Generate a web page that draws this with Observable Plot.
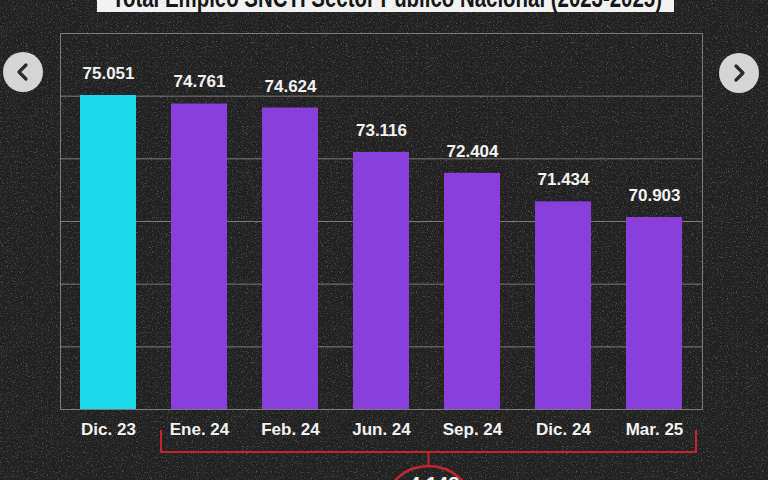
<!DOCTYPE html>
<html>
<head>
<meta charset="utf-8">
<script src="https://cdn.jsdelivr.net/npm/d3@7"></script>
<script src="https://cdn.jsdelivr.net/npm/@observablehq/plot@0.6"></script>
<style>
html, body { margin: 0; padding: 0; background: #212121; }
#wrap { position: relative; width: 768px; height: 480px; overflow: hidden; background: #212121; }
#bg, #chart, #decor { position: absolute; left: 0; top: 0; }
</style>
</head>
<body>
<div id="wrap">
  <svg id="bg" width="768" height="480">
    <defs>
      <filter id="noise" x="0" y="0" width="100%" height="100%">
        <feTurbulence type="fractalNoise" baseFrequency="0.8" numOctaves="3" seed="7" result="t"/>
        <feColorMatrix in="t" type="matrix" values="0 0 0 0 1  0 0 0 0 1  0 0 0 0 1  2.6 0 0 0 -1.4"/>
      </filter>
    </defs>
    <rect width="768" height="480" fill="#212121"/>
    <rect width="768" height="480" filter="url(#noise)" opacity="0.3"/>
  </svg>
  <div id="chart"></div>
  <svg id="decor" width="768" height="480"></svg>
</div>
<script>
// ---- data ----
const periods = ["Dic. 23", "Ene. 24", "Feb. 24", "Jun. 24", "Sep. 24", "Dic. 24", "Mar. 25"];
const empleo = [75051, 74761, 74624, 73116, 72404, 71434, 70903];
const barFills = ["#1ED8EE", "#8A3FDB", "#8A3FDB", "#8A3FDB", "#8A3FDB", "#8A3FDB", "#8A3FDB"];
const titleText = "Total Empleo SNCTI Sector Público Nacional (2023-2025)";

const yMin = 64374, yMax = 77159;
const fmt = d3.formatLocale({decimal: ",", thousands: ".", grouping: [3], currency: ["$", ""]}).format(",");
const data = periods.map((p, i) => ({period: p, value: empleo[i], fill: barFills[i]}));
const gridTicks = d3.range(1, 6).map(i => yMin + i * (yMax - yMin) / 6);

const chart = Plot.plot({
  width: 768, height: 480,
  marginLeft: 60, marginRight: 66, marginTop: 33, marginBottom: 71,
  style: {background: "transparent", color: "#fff", fontFamily: "'Liberation Sans', Arial, sans-serif", overflow: "visible"},
  x: {domain: periods, paddingInner: 0.39, paddingOuter: 0.195, label: null},
  y: {domain: [yMin, yMax], axis: null},
  marks: [
    Plot.gridY(gridTicks, {stroke: "#a0a0a0", strokeOpacity: 0.7, strokeWidth: 1}),
    Plot.frame({stroke: "#a0a0a0", strokeOpacity: 0.7}),
    Plot.barY(data, {x: "period", y1: yMin, y2: "value", fill: "fill"}),
    Plot.text(data, {x: "period", y: "value", text: d => fmt(d.value), dy: -22, fill: "#f2f2f2", fontSize: 17, fontWeight: "bold"}),
    Plot.axisX({tickSize: 0, tickPadding: 13, fontSize: 17, fontWeight: "bold", fill: "#f2f2f2", label: null})
  ]
});
document.getElementById("chart").append(chart);

const decor = d3.select("#decor");

// ---- title box (cut off at top, as in the reference) ----
decor.append("rect").attr("x", 97).attr("y", -22).attr("width", 577).attr("height", 34).attr("fill", "#f2f2f2");
decor.append("text").attr("x", 112).attr("y", 7)
  .attr("textLength", 550).attr("lengthAdjust", "spacingAndGlyphs")
  .attr("fill", "#151515").attr("font-family", "'Liberation Sans', Arial, sans-serif")
  .attr("font-weight", "bold").attr("font-size", 27)
  .text(titleText);

// ---- annotation: bracket under Ene. 24 .. Mar. 25 with total change ----
const x = chart.scale("x");
const bw = x.bandwidth;
const red = "#c4262e";
const bx1 = x.apply(periods[1]) - 10;
const bx2 = x.apply(periods[periods.length - 1]) + bw + 14;
const bTop = 430, bY = 452;
const mid = (bx1 + bx2) / 2;
decor.append("path")
  .attr("d", `M${bx1},${bTop}V${bY}H${bx2}V${bTop}M${mid},${bY}V466`)
  .attr("fill", "none").attr("stroke", red).attr("stroke-width", 2);
decor.append("ellipse").attr("cx", mid).attr("cy", 503).attr("rx", 42).attr("ry", 37)
  .attr("fill", "none").attr("stroke", red).attr("stroke-width", 2.5);
decor.append("text").attr("x", mid).attr("y", 491).attr("text-anchor", "middle")
  .attr("fill", "#f2f2f2").attr("font-family", "'Liberation Sans', Arial, sans-serif")
  .attr("font-weight", "bold").attr("font-size", 20)
  .text(fmt(empleo[empleo.length - 1] - empleo[0]));

// ---- carousel navigation buttons ----
[[23, 72, -1], [739, 73, 1]].forEach(([cx, cy, dir]) => {
  decor.append("circle").attr("cx", cx).attr("cy", cy).attr("r", 20).attr("fill", "#d5d5d5");
  decor.append("path")
    .attr("d", `M${cx - 3 * dir},${cy - 7}L${cx + 4 * dir},${cy}L${cx - 3 * dir},${cy + 7}`)
    .attr("fill", "none").attr("stroke", "#2a2a2a").attr("stroke-width", 3.2)
    .attr("stroke-linecap", "round").attr("stroke-linejoin", "round");
});
</script>
</body>
</html>
